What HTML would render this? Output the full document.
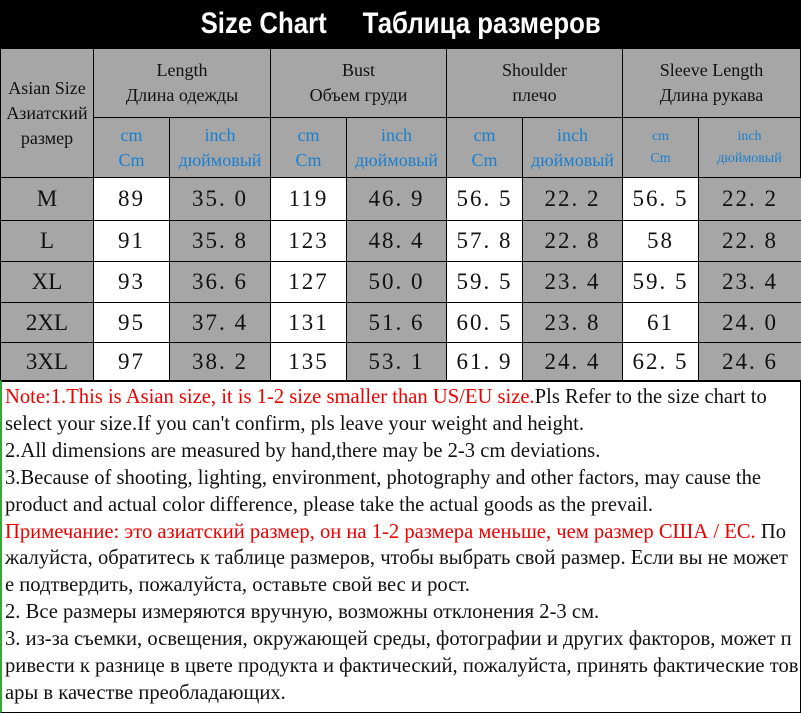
<!DOCTYPE html><html><head><meta charset="utf-8"><style>
body{margin:0;width:801px;height:713px;background:#fff;position:relative;overflow:hidden;font-family:"Liberation Serif","Noto Serif CJK SC",serif}
.t{position:absolute;left:0;top:0;width:801px;height:48px;background:#000;color:#fff;font-family:"Liberation Sans",sans-serif;font-weight:bold;font-size:30px;text-align:center;line-height:48px;}
.t span{display:inline-block;transform:scaleX(0.86)}
.c{position:absolute;box-sizing:border-box;border:1px solid #000;display:flex;align-items:center;justify-content:center;text-align:center;color:#111}
.g{background:#a6a6a6}.w{background:#fff}
.h{font-size:18px;line-height:25px}
.b{color:#1a7fd0;font-size:18px;line-height:25px}
.n{font-size:23px;letter-spacing:2px}
.notes{position:absolute;left:0;top:380px;width:801px;height:333px;box-sizing:border-box;border:1px solid #000;border-left:2px solid #3a3;padding:3px 3px;font-size:20.6px;line-height:26.9px;color:#111;white-space:nowrap}
.r{color:#e00}
</style></head><body>
<div class="t"><span>Size Chart&nbsp;&nbsp;&nbsp;&nbsp; Таблица размеров</span></div>
<div class="c g h" style="left:0;top:48px;width:94px;height:130px">Asian Size<br>Азиатский<br>размер</div>
<div class="c g h" style="left:93px;top:48px;width:178px;height:70px">Length<br>Длина одежды</div>
<div class="c g h" style="left:270px;top:48px;width:177px;height:70px">Bust<br>Объем груди</div>
<div class="c g h" style="left:446px;top:48px;width:177px;height:70px">Shoulder<br>плечо</div>
<div class="c g h" style="left:622px;top:48px;width:179px;height:70px">Sleeve Length<br>Длина рукава</div>
<div class="c g b" style="left:93px;top:117px;width:77px;height:61px">cm<br>Cm</div>
<div class="c g b" style="left:169px;top:117px;width:102px;height:61px">inch<br>дюймовый</div>
<div class="c g b" style="left:270px;top:117px;width:77px;height:61px">cm<br>Cm</div>
<div class="c g b" style="left:346px;top:117px;width:101px;height:61px">inch<br>дюймовый</div>
<div class="c g b" style="left:446px;top:117px;width:77px;height:61px">cm<br>Cm</div>
<div class="c g b" style="left:522px;top:117px;width:101px;height:61px">inch<br>дюймовый</div>
<div class="c g b" style="left:622px;top:117px;width:77px;height:61px;font-size:14px;line-height:22px">cm<br>Cm</div>
<div class="c g b" style="left:698px;top:117px;width:103px;height:61px;font-size:14px;line-height:22px">inch<br>дюймовый</div>
<div id="rows"></div>
<script>
var d=[["M","89","35.0","119","46.9","56.5","22.2","56.5","22.2"],["L","91","35.8","123","48.4","57.8","22.8","58","22.8"],["XL","93","36.6","127","50.0","59.5","23.4","59.5","23.4"],["2XL","95","37.4","131","51.6","60.5","23.8","61","24.0"],["3XL","97","38.2","135","53.1","61.9","24.4","62.5","24.6"]];
var xs=[0,93,169,270,346,446,522,622,698,801],ys=[177,220,261,302,342,381],h="";
d.forEach(function(r,i){r.forEach(function(v,j){var cls=(j==0||j%2==0)?"g":"w";var st=j==0?'letter-spacing:0':'';h+='<div class="c n '+cls+'" style="'+st+';left:'+xs[j]+'px;top:'+ys[i]+'px;width:'+(xs[j+1]-xs[j]+1)+'px;height:'+(ys[i+1]-ys[i]+1)+'px">'+v.replace(".",". ")+'</div>';});});
document.getElementById("rows").innerHTML=h;
</script>
<div class="notes"><span class="r">Note:1.This is Asian size, it is 1-2 size smaller than US/EU size.</span>Pls Refer to the size chart to<br>select your size.If you can't confirm, pls leave your weight and height.<br>2.All dimensions are measured by hand,there may be 2-3 cm deviations.<br>3.Because of shooting, lighting, environment, photography and other factors, may cause the<br>product and actual color difference, please take the actual goods as the prevail.<br><span class="r">Примечание: это азиатский размер, он на 1-2 размера меньше, чем размер США / ЕС.</span> По<br>жалуйста, обратитесь к таблице размеров, чтобы выбрать свой размер. Если вы не может<br>е подтвердить, пожалуйста, оставьте свой вес и рост.<br>2. Все размеры измеряются вручную, возможны отклонения 2-3 см.<br>3. из-за съемки, освещения, окружающей среды, фотографии и других факторов, может п<br>ривести к разнице в цвете продукта и фактический, пожалуйста, принять фактические тов<br>ары в качестве преобладающих.</div>
</body></html>
